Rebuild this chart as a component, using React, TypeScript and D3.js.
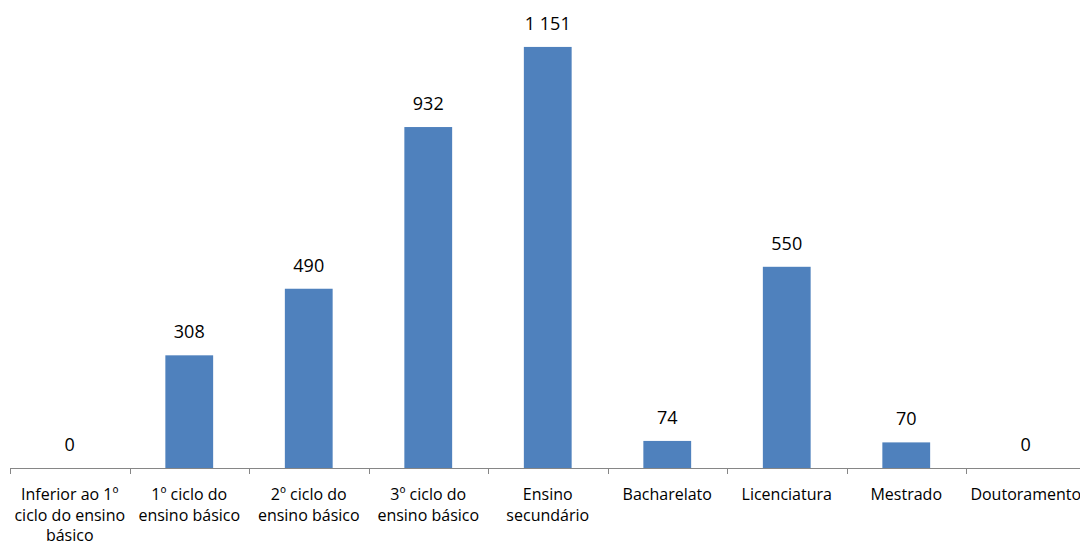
import React, { useEffect, useRef } from "react";
import * as d3 from "d3";

// Education level categories and the number of people in each
const categories: string[] = [
  "Inferior ao 1º ciclo do ensino básico",
  "1º ciclo do ensino básico",
  "2º ciclo do ensino básico",
  "3º ciclo do ensino básico",
  "Ensino secundário",
  "Bacharelato",
  "Licenciatura",
  "Mestrado",
  "Doutoramento",
];
const values: number[] = [0, 308, 490, 932, 1151, 74, 550, 70, 0];

const WIDTH = 1080;
const HEIGHT = 546;
const BASE_Y = 468;
const TOP_Y = 29;
const LEFT_X = 10;
const STEP = 119.5;
const BAR_COLOR = "#4F81BD";
const AXIS_COLOR = "#868686";
const FONT = "'Open Sans', 'Liberation Sans', sans-serif";

// Thousands separated by a space, Portuguese style
const fmt = (v: number) => d3.format(",")(v).replace(/,/g, " ");

export default function App() {
  const ref = useRef<SVGSVGElement | null>(null);

  useEffect(() => {
    const svg = d3.select(ref.current);
    svg.selectAll("*").remove();

    const x = d3
      .scaleBand<string>()
      .domain(categories)
      .range([LEFT_X, LEFT_X + categories.length * STEP])
      .paddingInner(0.6)
      .paddingOuter(0.3);

    const y = d3.scaleLinear().domain([0, 1200]).range([BASE_Y, TOP_Y]);

    const data = categories.map((c, i) => ({ c, v: values[i] }));

    // Bars
    svg
      .append("g")
      .selectAll("rect")
      .data(data)
      .join("rect")
      .attr("x", (d) => x(d.c)!)
      .attr("y", (d) => y(d.v))
      .attr("width", x.bandwidth())
      .attr("height", (d) => BASE_Y - y(d.v))
      .attr("fill", BAR_COLOR);

    // Value labels
    svg
      .append("g")
      .selectAll("text")
      .data(data)
      .join("text")
      .attr("x", (d) => x(d.c)! + x.bandwidth() / 2)
      .attr("y", (d) => y(d.v) - 17)
      .attr("text-anchor", "middle")
      .attr("font-family", FONT)
      .attr("font-size", 18)
      .attr("fill", "#000")
      .text((d) => fmt(d.v));

    // Category axis line and ticks between categories
    const axis = svg.append("g");
    axis
      .append("line")
      .attr("x1", LEFT_X)
      .attr("x2", LEFT_X + categories.length * STEP)
      .attr("y1", BASE_Y + 0.5)
      .attr("y2", BASE_Y + 0.5)
      .attr("stroke", AXIS_COLOR)
      .attr("stroke-width", 1);
    axis
      .selectAll("line.tick")
      .data(d3.range(categories.length + 1))
      .join("line")
      .attr("class", "tick")
      .attr("x1", (i) => Math.round(LEFT_X + i * x.step()) + 0.5)
      .attr("x2", (i) => Math.round(LEFT_X + i * x.step()) + 0.5)
      .attr("y1", BASE_Y)
      .attr("y2", BASE_Y + 6)
      .attr("stroke", AXIS_COLOR)
      .attr("stroke-width", 1);

    // Category labels, wrapped to the width of one category
    const maxW = x.step() - 4;
    const labels = axis
      .selectAll("text.cat")
      .data(categories)
      .join("text")
      .attr("class", "cat")
      .attr("x", (c) => x(c)! + x.bandwidth() / 2)
      .attr("y", 500)
      .attr("text-anchor", "middle")
      .attr("font-family", FONT)
      .attr("font-size", 16)
      .attr("fill", "#000");

    labels.each(function (c) {
      const t = d3.select(this);
      const words = c.split(" ");
      const cx = +t.attr("x");
      let line: string[] = [];
      let tspan = t.append("tspan").attr("x", cx).attr("dy", 0);
      for (const w of words) {
        line.push(w);
        tspan.text(line.join(" "));
        const node = tspan.node() as SVGTSpanElement;
        if (node.getComputedTextLength() > maxW && line.length > 1) {
          line.pop();
          tspan.text(line.join(" "));
          line = [w];
          tspan = t.append("tspan").attr("x", cx).attr("dy", 20.5).text(w);
        }
      }
    });
  }, []);

  return (
    <svg
      ref={ref}
      width={WIDTH}
      height={HEIGHT}
      style={{ position: "absolute", left: 0, top: 0, background: "#fff" }}
    />
  );
}
